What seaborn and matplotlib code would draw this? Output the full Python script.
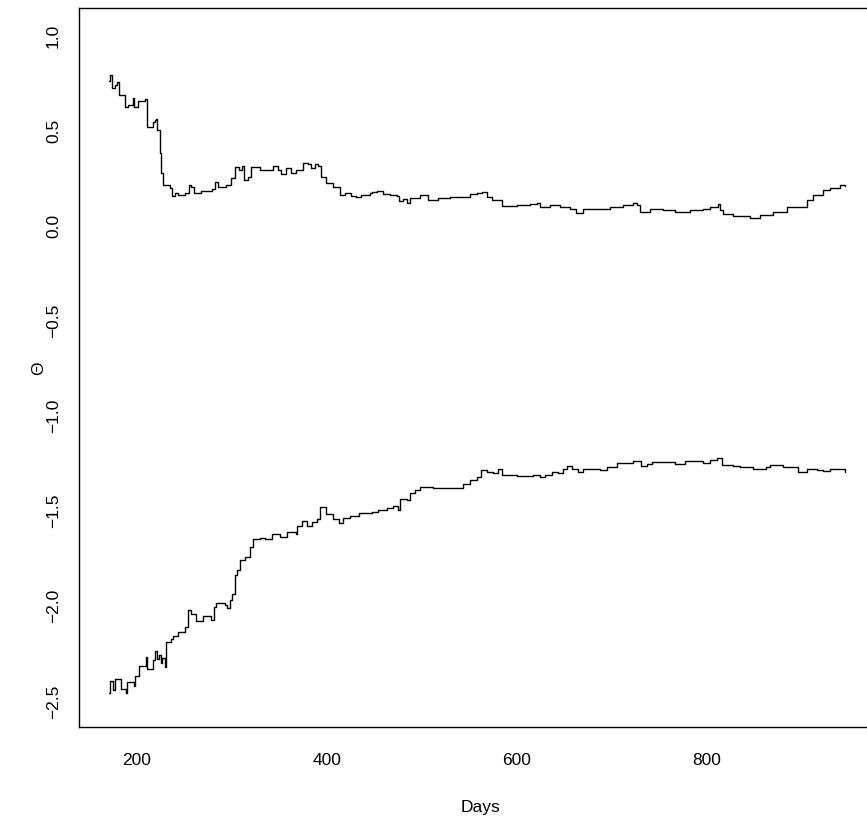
import matplotlib
matplotlib.use("Agg")
import matplotlib.pyplot as plt
import seaborn as sns
import pandas as pd

# ---- data ----
upper_days = [170.5, 171.3, 173.7, 176.5, 179.3, 181.4, 187.7, 190.5, 196.0, 197.0,
              201.0, 208.1, 210.5, 216.8, 218.6, 219.7, 221.0, 223.9, 225.6, 227.4,
              234.4, 237.2, 239.7, 243.2, 250.2, 254.7, 257.2, 260.0, 267.7, 279.3,
              281.8, 285.3, 294.0, 299.3, 302.8, 307.5, 310.5, 312.3, 316.8, 320.3,
              329.2, 343.2, 348.4, 351.9, 357.2, 362.4, 367.7, 374.7, 380.0, 383.5,
              387.7, 390.5, 394.0, 399.3, 406.3, 413.4, 418.6, 425.6, 430.8, 436.1,
              444.9, 447.0, 452.3, 459.3, 466.3, 473.4, 476.1, 480.3, 483.9, 487.4,
              497.9, 506.6, 517.2, 529.5, 550.5, 557.6, 562.8, 568.1, 573.4, 580.3,
              583.9, 599.7, 613.7, 620.7, 624.2, 634.7, 645.3, 655.8, 662.1, 669.8,
              683.9, 697.9, 711.9, 722.4, 726.0, 729.5, 740.0, 754.0, 766.3, 782.1,
              796.1, 803.2, 811.9, 813.7, 817.2, 827.7, 845.3, 855.8, 869.8, 883.9,
              896.1, 905.0, 911.9, 922.4, 929.5, 936.5, 940.0, 945.3]
upper_theta = [0.758, 0.790, 0.720, 0.737, 0.750, 0.684, 0.620, 0.630, 0.665, 0.620,
               0.650, 0.663, 0.517, 0.540, 0.553, 0.556, 0.500, 0.377, 0.272, 0.210,
               0.193, 0.149, 0.167, 0.158, 0.167, 0.210, 0.200, 0.167, 0.180, 0.188,
               0.223, 0.200, 0.210, 0.246, 0.304, 0.290, 0.307, 0.237, 0.254, 0.304,
               0.290, 0.307, 0.290, 0.268, 0.298, 0.275, 0.290, 0.325, 0.320, 0.298,
               0.321, 0.310, 0.254, 0.219, 0.200, 0.158, 0.167, 0.149, 0.144, 0.158,
               0.167, 0.175, 0.179, 0.163, 0.158, 0.149, 0.123, 0.137, 0.114, 0.140,
               0.158, 0.132, 0.140, 0.146, 0.163, 0.170, 0.175, 0.146, 0.128, 0.130,
               0.100, 0.105, 0.110, 0.114, 0.093, 0.105, 0.096, 0.083, 0.062, 0.083,
               0.083, 0.096, 0.105, 0.117, 0.105, 0.070, 0.083, 0.079, 0.070, 0.079,
               0.083, 0.093, 0.110, 0.079, 0.058, 0.044, 0.035, 0.053, 0.065, 0.096,
               0.096, 0.132, 0.158, 0.181, 0.193, 0.196, 0.207, 0.202]

lower_days = [170.5, 171.3, 174.7, 176.5, 177.2, 182.8, 188.7, 189.8, 196.8, 198.2,
              202.1, 209.2, 210.5, 216.8, 219.3, 221.0, 222.8, 224.9, 226.6, 229.2,
              230.8, 236.1, 237.9, 243.2, 250.8, 253.7, 257.2, 262.4, 269.5, 278.2,
              281.1, 283.5, 292.3, 295.1, 297.6, 300.0, 302.8, 305.6, 308.4, 313.7,
              318.9, 322.4, 329.5, 334.7, 341.8, 347.1, 350.5, 358.2, 367.4, 368.7,
              373.4, 378.6, 383.9, 389.2, 392.6, 399.0, 406.6, 413.0, 417.2, 424.2,
              434.0, 447.1, 454.0, 462.8, 469.8, 475.1, 476.8, 484.5, 487.4, 492.6,
              497.9, 511.9, 534.7, 543.5, 550.5, 557.6, 561.8, 568.1, 575.1, 580.3,
              583.9, 599.7, 617.2, 624.2, 629.5, 636.5, 643.5, 648.7, 653.0, 657.6,
              664.5, 669.8, 687.4, 694.4, 704.9, 718.9, 722.4, 730.2, 736.5, 741.8,
              766.3, 776.8, 796.1, 803.2, 810.2, 815.5, 827.7, 834.7, 848.7, 862.8,
              866.3, 880.3, 895.5, 905.0, 915.5, 922.4, 929.5, 945.3]
lower_theta = [-2.461, -2.398, -2.447, -2.426, -2.389, -2.439, -2.461, -2.404, -2.426, -2.374,
               -2.321, -2.272, -2.333, -2.289, -2.240, -2.281, -2.263, -2.304, -2.275, -2.325,
               -2.193, -2.175, -2.163, -2.140, -2.114, -2.026, -2.047, -2.084, -2.058, -2.075,
               -2.009, -1.986, -1.996, -2.012, -1.974, -1.939, -1.842, -1.816, -1.763, -1.746,
               -1.693, -1.654, -1.644, -1.649, -1.626, -1.623, -1.640, -1.614, -1.626, -1.584,
               -1.556, -1.582, -1.561, -1.544, -1.486, -1.518, -1.549, -1.567, -1.539, -1.532,
               -1.514, -1.509, -1.500, -1.491, -1.479, -1.500, -1.439, -1.447, -1.412, -1.395,
               -1.377, -1.386, -1.381, -1.363, -1.342, -1.328, -1.289, -1.298, -1.303, -1.286,
               -1.316, -1.319, -1.316, -1.328, -1.316, -1.298, -1.303, -1.281, -1.268, -1.286,
               -1.298, -1.281, -1.289, -1.275, -1.254, -1.251, -1.240, -1.268, -1.258, -1.246,
               -1.258, -1.240, -1.254, -1.237, -1.228, -1.263, -1.268, -1.275, -1.281, -1.272,
               -1.263, -1.275, -1.298, -1.286, -1.289, -1.293, -1.281, -1.298]

x_ticks = [200, 400, 600, 800]
y_ticks = [-2.5, -2.0, -1.5, -1.0, -0.5, 0.0, 0.5, 1.0]
x_label = "Days"
y_label = "Θ"

# ---- style ----
sns.set_style("white")
plt.rcParams["font.family"] = ["Liberation Sans", "DejaVu Sans"]

fig = plt.figure(figsize=(8.67, 8.28), dpi=100)
ax = fig.add_axes([79 / 867, 1 - 728 / 828, (874 - 79) / 867, (728 - 9) / 828])

df_u = pd.DataFrame({"day": upper_days, "theta": upper_theta})
df_l = pd.DataFrame({"day": lower_days, "theta": lower_theta})
for d in (df_u, df_l):
    sns.lineplot(data=d, x="day", y="theta", ax=ax, color="black", lw=1.0,
                 drawstyle="steps-post", estimator=None, sort=False)

ax.set_xlim(139, 976)
ax.set_ylim(-2.64, 1.14)
ax.set_xticks(x_ticks)
ax.set_xticklabels([str(t) for t in x_ticks])
ax.set_yticks(y_ticks)
ax.set_yticklabels([f"{t:.1f}".replace("-", "\u2212") for t in y_ticks],
                   rotation=90, va="center")

ax.tick_params(axis="both", direction="out", length=8, width=0.9, color="black",
               labelsize=12.5, labelcolor="black")
ax.tick_params(axis="x", pad=10)
ax.tick_params(axis="y", pad=5)

for s in ax.spines.values():
    s.set_visible(True)
    s.set_color("black")
    s.set_linewidth(1.0)

ax.set_xlabel(x_label, fontsize=12.5, color="black")
ax.set_ylabel(y_label, fontsize=12.5, color="black")
ax.xaxis.set_label_coords((480 - 79) / (874 - 79), (728 - 808) / (728 - 9))
ax.xaxis.label.set_va("center")
ax.yaxis.set_label_coords((39 - 79) / (874 - 79), 0.5)
ax.yaxis.label.set_va("center")

fig.savefig("out.png", dpi=100)
